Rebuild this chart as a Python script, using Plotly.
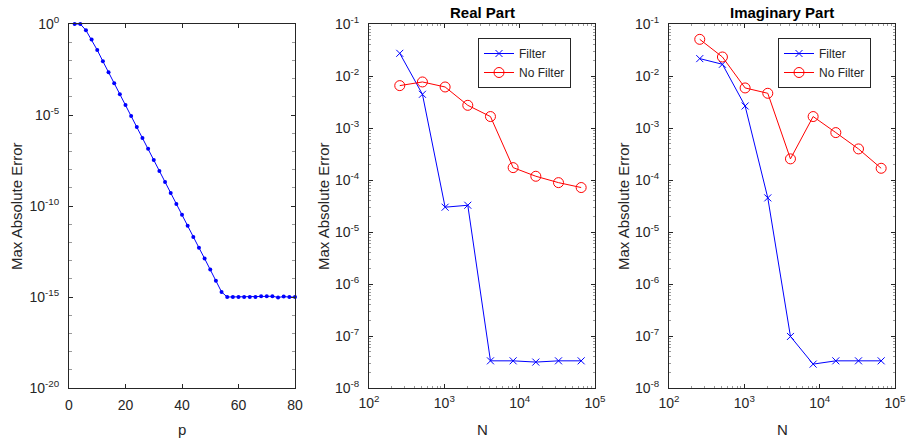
import plotly.graph_objects as go

# ---- data ----
p_vals = list(range(2, 82, 2))
p_err = [1.0, 1.0, 4.5e-1, 1.4e-1, 3.7e-2, 8.9e-3, 2.2e-3, 5.5e-4, 1.4e-4, 3.5e-5,
         8.9e-6, 2.2e-6, 5.5e-7, 1.4e-7, 3.4e-8, 8.5e-9, 2.1e-9, 5.2e-10, 1.3e-10, 3.3e-11,
         8.3e-12, 2.0e-12, 5.1e-13, 1.3e-13, 3.2e-14, 7.8e-15, 1.9e-15, 1.0e-15, 1.0e-15, 1.0e-15,
         1.0e-15, 1.0e-15, 1.0e-15, 1.1e-15, 1.1e-15, 1.1e-15, 0.95e-15, 1.05e-15, 1.0e-15, 1.0e-15]

N_vals = [256, 512, 1024, 2048, 4096, 8192, 16384, 32768, 65536]

real_filter = [2.73e-2, 4.45e-3, 3.0e-5, 3.27e-5, 3.33e-8, 3.33e-8, 3.15e-8, 3.33e-8, 3.33e-8]
real_nofilter = [6.53e-3, 7.68e-3, 6.15e-3, 2.73e-3, 1.66e-3, 1.73e-4, 1.18e-4, 8.9e-5, 7.16e-5]

imag_filter = [2.16e-2, 1.68e-2, 2.65e-3, 4.53e-5, 9.8e-8, 2.88e-8, 3.33e-8, 3.33e-8, 3.33e-8]
imag_nofilter = [5.07e-2, 2.32e-2, 5.89e-3, 4.65e-3, 2.55e-4, 1.66e-3, 8.16e-4, 3.96e-4, 1.68e-4]

p_ticks = [0, 20, 40, 60, 80]
p_err_exps = [0, -5, -10, -15, -20]
N_exps = [2, 3, 4, 5]
N_err_exps = [-1, -2, -3, -4, -5, -6, -7, -8]

# ---- style ----
W, H = 909, 442
INK = "#262626"
FONT = "Liberation Sans, Arial, sans-serif"
BLUE = "rgb(0,0,255)"
RED = "rgb(255,0,0)"


def px_x(v):
    return v / W


def px_y(v):
    return 1 - v / H


def pow_label(e):
    return "10<sup>%d</sup>" % e


panel_left = [69, 369, 669]
panel_w = 226
top_px, bot_px = 24, 388

fig = go.Figure()

# left panel: convergence in p
fig.add_trace(go.Scatter(
    x=p_vals, y=p_err, mode="lines+markers", showlegend=False,
    line=dict(color=BLUE, width=1), marker=dict(color=BLUE, size=4),
    cliponaxis=False, xaxis="x", yaxis="y"))

# middle and right panels: filter comparison
for idx, (fvals, nvals, leg) in enumerate([(real_filter, real_nofilter, "legend"),
                                           (imag_filter, imag_nofilter, "legend2")]):
    xa = "x%d" % (idx + 2)
    ya = "y%d" % (idx + 2)
    fig.add_trace(go.Scatter(
        x=N_vals, y=fvals, mode="lines+markers", name="Filter",
        line=dict(color=BLUE, width=1),
        marker=dict(color=BLUE, symbol="x-thin", size=7, line=dict(color=BLUE, width=1)),
        cliponaxis=False, xaxis=xa, yaxis=ya, legend=leg))
    fig.add_trace(go.Scatter(
        x=N_vals, y=nvals, mode="lines+markers", name="No Filter",
        line=dict(color=RED, width=1),
        marker=dict(color=RED, symbol="circle-open", size=10, line=dict(color=RED, width=1)),
        cliponaxis=False, xaxis=xa, yaxis=ya, legend=leg))

axis_common = dict(
    showline=True, linecolor=INK, linewidth=1, mirror="ticks",
    ticks="inside", ticklen=4, tickcolor=INK, tickwidth=1,
    showgrid=False, zeroline=False, automargin=False,
    tickfont=dict(family=FONT, size=14, color=INK),
)

layout = dict(
    width=W, height=H, margin=dict(l=0, r=0, t=0, b=0, autoexpand=False),
    paper_bgcolor="white", plot_bgcolor="white",
    font=dict(family=FONT, color=INK),
)

ydom = [px_y(bot_px), px_y(top_px)]

# left axes
layout["xaxis"] = dict(axis_common, domain=[px_x(69), px_x(69 + panel_w)], range=[0, 80],
                       tickmode="array", tickvals=p_ticks, ticktext=[str(v) for v in p_ticks],
                       anchor="y", ticklabelstandoff=4)
minor_left = [10.0 ** e for e in range(-20, 1) if e % 5 != 0]
layout["yaxis"] = dict(axis_common, domain=ydom, type="log", range=[-20, 0],
                       tickmode="array", tickvals=[10.0 ** e for e in p_err_exps],
                       ticktext=[pow_label(e) for e in p_err_exps], anchor="x",
                       ticklabelstandoff=6,
                       minor=dict(ticks="inside", ticklen=3, tickcolor="#9a9a9a",
                                  tickvals=minor_left))

minor_N = [m * 10.0 ** e for e in range(2, 5) for m in range(2, 10)]
minor_E = [m * 10.0 ** e for e in range(-8, -1) for m in range(2, 10)]
for i in (2, 3):
    left = panel_left[i - 1]
    layout["xaxis%d" % i] = dict(axis_common, domain=[px_x(left), px_x(left + panel_w)],
                                 type="log", range=[2, 5], tickmode="array",
                                 tickvals=[10.0 ** e for e in N_exps],
                                 ticktext=[pow_label(e) for e in N_exps],
                                 anchor="y%d" % i, ticklabelstandoff=2,
                                 minor=dict(ticks="inside", ticklen=2, tickcolor="#9a9a9a",
                                            tickvals=minor_N))
    layout["yaxis%d" % i] = dict(axis_common, domain=ydom, type="log", range=[-8, -1],
                                 tickmode="array",
                                 tickvals=[10.0 ** e for e in N_err_exps],
                                 ticktext=[pow_label(e) for e in N_err_exps],
                                 anchor="x%d" % i, ticklabelstandoff=6,
                                 minor=dict(ticks="inside", ticklen=2, tickcolor="#9a9a9a",
                                            tickvals=minor_E))

legend_style = dict(
    bgcolor="white", bordercolor=INK, borderwidth=1,
    font=dict(family=FONT, size=12, color=INK),
    xanchor="left", yanchor="top", tracegroupgap=0,
)
layout["legend"] = dict(legend_style, x=px_x(478), y=px_y(38))
layout["legend2"] = dict(legend_style, x=px_x(778), y=px_y(38))

annotations = []
# panel titles
for cx, txt in [(369 + panel_w / 2, "Real Part"), (669 + panel_w / 2, "Imaginary Part")]:
    annotations.append(dict(x=px_x(cx), y=px_y(12), xref="paper", yref="paper",
                            text="<b>%s</b>" % txt, showarrow=False,
                            font=dict(family=FONT, size=15, color="black"),
                            xanchor="center", yanchor="middle"))
# axis titles
for lx, xlabel in [(69, "p"), (369, "N"), (669, "N")]:
    annotations.append(dict(x=px_x(lx + panel_w / 2), y=px_y(429), xref="paper", yref="paper",
                            text=xlabel, showarrow=False,
                            font=dict(family=FONT, size=15, color=INK),
                            xanchor="center", yanchor="middle"))
for cx in (16, 323, 623):
    annotations.append(dict(x=px_x(cx), y=px_y((top_px + bot_px) / 2), xref="paper",
                            yref="paper", text="Max Absolute Error", showarrow=False,
                            textangle=-90,
                            font=dict(family=FONT, size=15, color=INK),
                            xanchor="center", yanchor="middle"))
layout["annotations"] = annotations

fig.update_layout(**layout)
fig.write_html("out.html")
